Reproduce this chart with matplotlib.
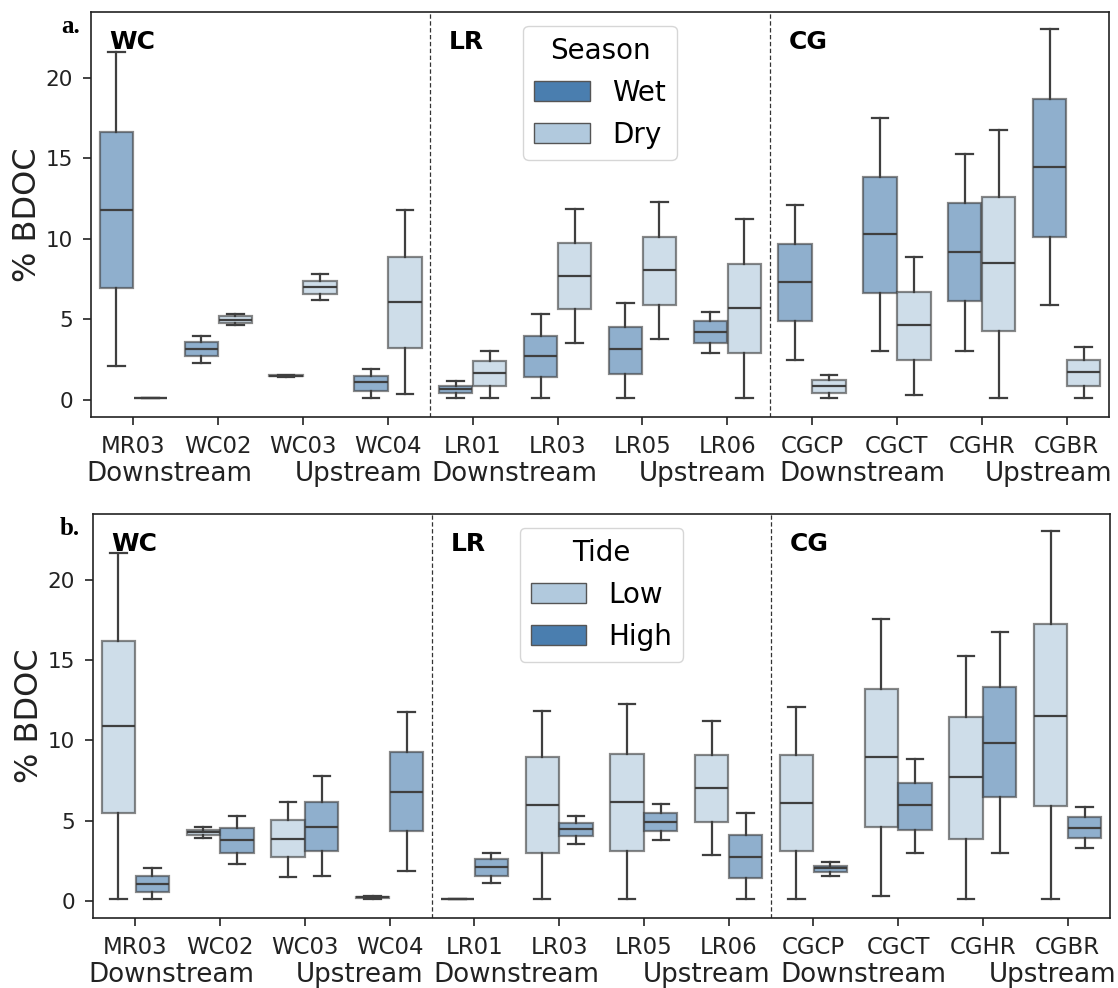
import matplotlib
matplotlib.use("Agg")
import matplotlib.pyplot as plt
import matplotlib.transforms as mtransforms
from matplotlib.patches import Patch

# ---------------------------------------------------------------- data
sites = ["MR03", "WC02", "WC03", "WC04",
         "LR01", "LR03", "LR05", "LR06",
         "CGCP", "CGCT", "CGHR", "CGBR"]
regions = ["WC", "LR", "CG"]
stream_labels = ["Downstream", "Upstream"] * 3

# % BDOC box summaries per site: lower whisker, Q1, median, Q3, upper whisker
wet_lo  = [2.07, 2.28, 1.44, 0.14, 0.14, 0.14, 0.14, 2.90, 2.48, 3.06, 3.06, 5.90]
wet_q1  = [6.94, 2.69, 1.46, 0.52, 0.42, 1.39, 1.61, 3.56, 4.87, 6.63, 6.11, 10.10]
wet_med = [11.80, 3.15, 1.49, 1.08, 0.66, 2.73, 3.15, 4.22, 7.29, 10.29, 9.21, 14.47]
wet_q3  = [16.67, 3.58, 1.52, 1.49, 0.83, 3.98, 4.55, 4.87, 9.69, 13.85, 12.21, 18.70]
wet_hi  = [21.60, 3.97, 1.54, 1.90, 1.18, 5.32, 6.04, 5.47, 12.11, 17.54, 15.26, 23.02]

dry_lo  = [0.14, 4.66, 6.21, 0.37, 0.14, 3.56, 3.79, 0.14, 0.14, 0.29, 0.14, 0.14]
dry_q1  = [0.14, 4.76, 6.58, 3.21, 0.83, 5.63, 5.88, 2.90, 0.45, 2.46, 4.29, 0.87]
dry_med = [0.14, 4.97, 7.00, 6.07, 1.66, 7.72, 8.05, 5.73, 0.87, 4.66, 8.47, 1.74]
dry_q3  = [0.14, 5.18, 7.39, 8.86, 2.42, 9.77, 10.12, 8.45, 1.24, 6.71, 12.61, 2.46]
dry_hi  = [0.14, 5.32, 7.81, 11.80, 3.04, 11.86, 12.30, 11.22, 1.55, 8.88, 16.77, 3.27]

low_lo  = [0.10, 3.91, 1.46, 0.12, 0.10, 0.10, 0.10, 2.85, 0.10, 0.27, 0.10, 0.10]
low_q1  = [5.45, 4.10, 2.70, 0.17, 0.10, 3.01, 3.12, 4.93, 3.12, 4.62, 3.85, 5.88]
low_med = [10.87, 4.26, 3.85, 0.21, 0.10, 5.97, 6.18, 7.03, 6.11, 8.94, 7.69, 11.50]
low_q3  = [16.18, 4.43, 5.03, 0.26, 0.10, 8.94, 9.15, 9.09, 9.11, 13.21, 11.44, 17.26]
low_hi  = [21.67, 4.62, 6.18, 0.30, 0.10, 11.85, 12.27, 11.19, 12.10, 17.53, 15.28, 23.02]

high_lo  = [0.10, 2.29, 1.52, 1.87, 1.10, 3.54, 3.79, 0.10, 1.52, 3.01, 3.01, 3.26]
high_q1  = [0.58, 2.97, 3.12, 4.35, 1.56, 4.01, 4.35, 1.42, 1.77, 4.41, 6.44, 3.91]
high_med = [1.04, 3.79, 4.62, 6.76, 2.12, 4.45, 4.93, 2.76, 2.02, 5.97, 9.86, 4.53]
high_q3  = [1.52, 4.53, 6.18, 9.25, 2.60, 4.85, 5.45, 4.10, 2.18, 7.34, 13.31, 5.20]
high_hi  = [2.02, 5.28, 7.76, 11.79, 3.01, 5.28, 6.01, 5.45, 2.45, 8.86, 16.74, 5.86]

# ---------------------------------------------------------------- style
DARK = "#4a7eaf"
LIGHT = "#b1c9dd"
LINE = "#3f3f3f"
W, H = 1118, 988

plt.rcParams["font.family"] = ["DejaVu Sans"]

fig = plt.figure(figsize=(W / 100, H / 100), dpi=100)
ax_a = fig.add_axes([91 / W, (H - 417) / H, 1018 / W, 405 / H])
ax_b = fig.add_axes([93 / W, (H - 918) / H, 1017 / W, 404 / H])


def summaries(lo, q1, med, q3, hi):
    return [dict(whislo=a, q1=b, med=c, q3=d, whishi=e, fliers=[])
            for a, b, c, d, e in zip(lo, q1, med, q3, hi)]


def draw_panel(ax, left, right, colors, hue_title, hue_names):
    width = 0.392
    for stats, off, col in ((left, -0.2, colors[0]), (right, 0.2, colors[1])):
        pos = [i + off for i in range(len(sites))]
        ax.bxp(stats, positions=pos, widths=width, capwidths=width / 2,
               patch_artist=True, showfliers=False, manage_ticks=False,
               boxprops=dict(facecolor=col, edgecolor=LINE, linewidth=1.6,
                             alpha=0.62),
               whiskerprops=dict(color=LINE, linewidth=1.6),
               capprops=dict(color=LINE, linewidth=1.6),
               medianprops=dict(color=LINE, linewidth=1.6))

    ax.set_xlim(-0.5, len(sites) - 0.5)
    ax.set_ylim(-1.07, 24.1)
    ax.set_xticks(range(len(sites)))
    ax.set_xticklabels(sites)
    ax.set_yticks([0, 5, 10, 15, 20])
    ax.tick_params(axis="both", length=6, width=1.2, pad=7, colors="#222222")
    ax.tick_params(axis="x", labelsize=16.5)
    ax.tick_params(axis="y", labelsize=15.5)
    for sp in ax.spines.values():
        sp.set_linewidth(1.2)
        sp.set_color("#222222")

    ax.set_ylabel("% BDOC", fontsize=23, color="#222222")
    ax.yaxis.set_label_coords(-0.047, 0.5)

    for xb in (3.5, 7.5):
        ax.axvline(xb, color="#333333", linestyle=(0, (3.5, 2)), linewidth=0.9)

    trans = mtransforms.blended_transform_factory(ax.transData, ax.transAxes)
    for k, name in enumerate(regions):
        ax.text(4 * k - 0.28, 0.956, name, transform=trans, fontsize=18,
                fontweight="bold", va="top", ha="left")

    handles = [Patch(facecolor=c, edgecolor="#555555", linewidth=1.0, label=n)
               for c, n in zip(colors, hue_names)]
    ax.legend(handles=handles, title=hue_title, loc="upper center",
              fontsize=20, title_fontsize=20, borderaxespad=0.5)


draw_panel(ax_a,
           summaries(wet_lo, wet_q1, wet_med, wet_q3, wet_hi),
           summaries(dry_lo, dry_q1, dry_med, dry_q3, dry_hi),
           (DARK, LIGHT), "Season", ["Wet", "Dry"])
draw_panel(ax_b,
           summaries(low_lo, low_q1, low_med, low_q3, low_hi),
           summaries(high_lo, high_q1, high_med, high_q3, high_hi),
           (LIGHT, DARK), "Tide", ["Low", "High"])

# reach direction labels under each group of sites
centers_a = [169.5, 359, 514, 703, 862, 1049]
centers_b = [171.5, 360, 516.5, 706.5, 863, 1052.5]
for centers, base in ((centers_a, 481), (centers_b, 982)):
    for cx, lab in zip(centers, stream_labels):
        fig.text(cx / W, 1 - base / H, lab, fontsize=18.8, ha="center",
                 va="baseline", color="#222222")

# panel letters
fig.text(61 / W, 1 - 33 / H, "a.", family="Liberation Serif",
         fontweight="bold", fontsize=18, va="baseline")
fig.text(60 / W, 1 - 535 / H, "b.", family="Liberation Serif",
         fontweight="bold", fontsize=18, va="baseline")

fig.savefig("out.png", dpi=100, facecolor="white")
